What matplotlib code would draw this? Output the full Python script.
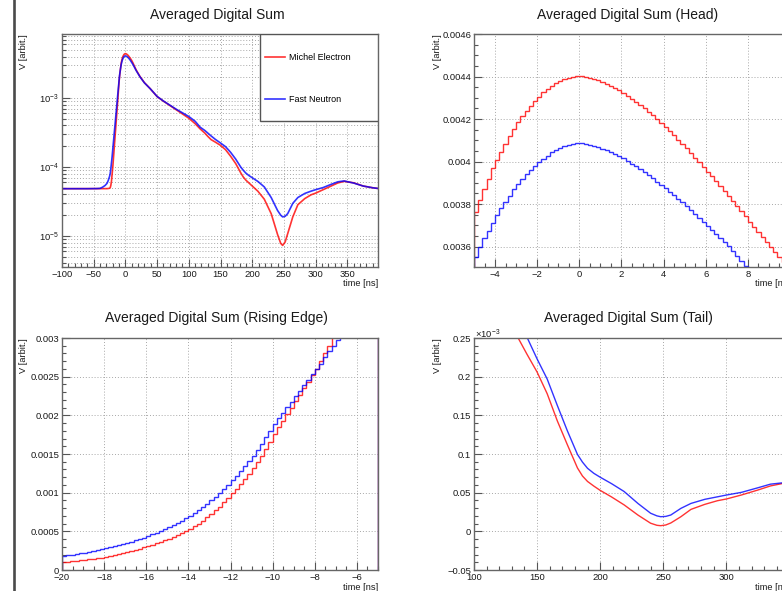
import numpy as np
import matplotlib
matplotlib.use("Agg")
import matplotlib.pyplot as plt
from matplotlib.ticker import MultipleLocator, LogLocator, FuncFormatter, NullFormatter
from matplotlib.lines import Line2D
from matplotlib.patches import Rectangle

# ---- data ----
labels = ["Michel Electron", "Fast Neutron"]

# rising edge, 0.2 ns bins from -20 to -5 ns, units of 1e-4
rise_red = [1.00, 1.05, 1.11, 1.17, 1.24, 1.30, 1.37, 1.45, 1.53, 1.61,
            1.70, 1.81, 1.92, 2.03, 2.16, 2.29, 2.43, 2.58, 2.74, 2.92,
            3.10, 3.27, 3.45, 3.64, 3.84, 4.05, 4.28, 4.51, 4.76, 5.02,
            5.30, 5.64, 6.01, 6.39, 6.81, 7.25, 7.71, 8.21, 8.74, 9.30,
            9.90, 10.49, 11.11, 11.76, 12.46, 13.20, 13.98, 14.80, 15.68, 16.61,
            17.60, 18.44, 19.28, 20.12, 20.96, 21.80, 22.64, 23.48, 24.32, 25.16,
            26.00, 27.0, 28.0, 29.0, 30.1, 31.0, 31.8, 32.6, 33.3, 34.0,
            34.7, 35.3, 35.9, 36.5, 37.1]
rise_blue = [1.80, 1.88, 1.97, 2.05, 2.15, 2.24, 2.34, 2.45, 2.56, 2.68,
             2.80, 2.93, 3.06, 3.21, 3.35, 3.51, 3.67, 3.84, 4.02, 4.20,
             4.40, 4.61, 4.83, 5.06, 5.30, 5.55, 5.81, 6.09, 6.38, 6.68,
             7.00, 7.36, 7.74, 8.15, 8.57, 9.01, 9.48, 9.97, 10.49, 11.03,
             11.60, 12.18, 12.79, 13.43, 14.10, 14.80, 15.54, 16.32, 17.14, 17.99,
             18.90, 19.61, 20.32, 21.03, 21.74, 22.45, 23.16, 23.87, 24.58, 25.29,
             26.00, 26.7, 27.5, 28.3, 29.0, 29.7, 30.4, 31.0, 31.6, 32.2,
             32.8, 33.4, 34.0, 34.6, 35.1]

# head, 0.2 ns bins from -5 to 10 ns, units of 1e-4
head_red = [37.65, 38.20, 38.72, 39.19, 39.69, 40.08, 40.47, 40.82, 41.18, 41.54,
            41.86, 42.12, 42.40, 42.62, 42.86, 43.06, 43.25, 43.41, 43.57, 43.69,
            43.80, 43.88, 43.94, 43.99, 44.02, 44.04, 44.00, 43.95, 43.88, 43.82,
            43.74, 43.66, 43.57, 43.46, 43.35, 43.23, 43.09, 42.95, 42.81, 42.67,
            42.53, 42.35, 42.17, 41.99, 41.81, 41.63, 41.43, 41.23, 41.03, 40.83,
            40.63, 40.41, 40.19, 39.97, 39.75, 39.53, 39.30, 39.07, 38.84, 38.61,
            38.38, 38.14, 37.90, 37.66, 37.42, 37.18, 36.94, 36.70, 36.46, 36.22,
            35.98, 35.74, 35.50, 35.26, 35.02]
head_blue = [35.50, 36.00, 36.40, 36.74, 37.13, 37.49, 37.81, 38.12, 38.40, 38.70,
             38.95, 39.19, 39.42, 39.61, 39.80, 39.97, 40.13, 40.28, 40.43, 40.55,
             40.66, 40.74, 40.79, 40.84, 40.85, 40.87, 40.84, 40.79, 40.74, 40.68,
             40.61, 40.55, 40.45, 40.36, 40.27, 40.16, 40.03, 39.90, 39.77, 39.64,
             39.51, 39.36, 39.21, 39.06, 38.91, 38.76, 38.59, 38.42, 38.25, 38.08,
             37.91, 37.73, 37.54, 37.36, 37.17, 36.99, 36.80, 36.60, 36.41, 36.22,
             36.03, 35.80, 35.57, 35.34, 35.11, 34.88, 34.65, 34.42, 34.19, 33.96,
             33.73, 33.50, 33.27, 33.04, 32.81]

# baseline before the rise, units of 1e-5
pre_t = [-100, -80, -60, -45, -40, -36, -32, -29, -27, -25, -24, -23, -22, -21]
pre_red = [4.85, 4.85, 4.85, 4.85, 4.85, 4.85, 4.85, 4.86, 4.88, 4.92, 5.0, 5.4, 6.2, 7.7]
pre_blue = [4.85, 4.85, 4.85, 4.87, 4.9, 5.1, 5.4, 5.8, 6.4, 7.3, 8.0, 9.4, 11.4, 14.0]

# decay and tail after the head, units of 1e-5
post_t = [12, 14, 17, 20, 23, 30, 39, 50, 60, 70, 80, 90, 100, 110, 118, 125, 130, 135,
          142, 150, 158, 166, 174, 182, 186, 190, 195, 200, 209, 219, 230, 240, 245, 248, 252, 256,
          264, 272, 283, 293, 300, 312, 325, 335, 345, 360, 375, 390, 399]
post_red = [322, 292, 255, 228, 205, 167, 137, 105, 90, 78, 67.5, 58.5, 51, 42.5, 35.6, 31.2, 27.8, 25.0,
            22.9, 20.6, 17.8, 14.3, 11.2, 8.2, 7.15, 6.45, 5.85, 5.3, 4.45, 3.42, 2.1, 1.05, 0.78, 0.73,
            0.82, 1.08, 1.89, 2.84, 3.49, 3.96, 4.18, 4.70, 5.34, 5.87, 6.2, 5.9, 5.3, 5.0, 4.88]
post_blue = [306, 282, 250, 225, 203, 166, 137, 105.5, 90.5, 79, 69, 61, 54, 46, 37.7, 34, 31, 28.3,
             25.1, 22.3, 19.7, 16.3, 13.0, 9.95, 8.95, 8.15, 7.5, 7.0, 6.17, 5.15, 3.6, 2.34, 2.0, 1.89,
             1.93, 2.11, 2.97, 3.61, 4.14, 4.47, 4.69, 5.04, 5.63, 6.1, 6.28, 5.85, 5.3, 5.0, 4.88]

RED = '#ff0000'
BLUE = '#0000ff'

plt.rcParams['font.family'] = ['Liberation Sans', 'DejaVu Sans']
plt.rcParams['mathtext.fontset'] = 'custom'
plt.rcParams['mathtext.rm'] = 'Liberation Sans'
plt.rcParams['mathtext.it'] = 'Liberation Sans:italic'
plt.rcParams['mathtext.bf'] = 'Liberation Sans:bold'

rise_edges = np.linspace(-20, -5, len(rise_red) + 1)
head_edges = np.linspace(-5, 10, len(head_red) + 1)
rise_c = rise_edges[:-1] + 0.1
head_c = head_edges[:-1] + 0.1

full_t = np.concatenate([pre_t, rise_c, head_c, post_t])
full_red = np.concatenate([np.array(pre_red) * 1e-5, np.array(rise_red) * 1e-4,
                           np.array(head_red) * 1e-4, np.array(post_red) * 1e-5])
full_blue = np.concatenate([np.array(pre_blue) * 1e-5, np.array(rise_blue) * 1e-4,
                            np.array(head_blue) * 1e-4, np.array(post_blue) * 1e-5])

W, H = 782, 591
fig = plt.figure(figsize=(W / 100, H / 100), dpi=100)
fig.patch.set_facecolor('white')


def box(l, t, r, b):
    return [l / W, 1 - b / H, (r - l) / W, (b - t) / H]


def gfmt(v, pos):
    return ('%g' % v).replace('-', '\u2212')


def style(ax, xmaj, xmin, ymaj=None, ymin=None):
    for s in ax.spines.values():
        s.set_color('#666666')
        s.set_linewidth(1.0)
    ax.tick_params(which='both', direction='in', top=False, right=False,
                   colors='#555555', labelcolor='#1a1a1a', labelsize=6.8)
    ax.tick_params(axis='x', pad=2)
    ax.tick_params(axis='y', pad=2)
    ax.tick_params(which='major', length=6, width=0.8)
    ax.tick_params(which='minor', length=3, width=0.8)
    ax.xaxis.set_major_locator(MultipleLocator(xmaj))
    ax.xaxis.set_minor_locator(MultipleLocator(xmin))
    ax.xaxis.set_major_formatter(FuncFormatter(gfmt))
    if ymaj is not None:
        ax.yaxis.set_major_locator(MultipleLocator(ymaj))
        ax.yaxis.set_minor_locator(MultipleLocator(ymin))
        ax.yaxis.set_major_formatter(FuncFormatter(gfmt))
    ax.grid(True, which='major', color='#a8a8a8', linestyle=(0, (1, 2)), linewidth=0.7)
    ax.set_axisbelow(True)


gl = dict(color='#a8a8a8', linestyle=(0, (1, 2)), linewidth=0.7)

# ---- top left: full waveform, log scale ----
ax = fig.add_axes(box(62, 34, 378, 267))
l1, = ax.plot(full_t, full_red, color=RED, lw=1.2, alpha=0.8)
l2, = ax.plot(full_t, full_blue, color=BLUE, lw=1.2, alpha=0.8)
ax.set_yscale('log')
ax.set_xlim(-100, 398.4)
ax.set_ylim(3.55e-6, 8.48e-3)
style(ax, 50, 10)
ax.yaxis.set_major_locator(LogLocator(base=10))
ax.yaxis.set_minor_locator(LogLocator(base=10, subs=np.arange(2, 10)))
ax.yaxis.set_minor_formatter(NullFormatter())
ax.grid(True, which='minor', axis='y', **gl)
ax.add_patch(Rectangle((0.6256, 0.6266), 0.3744, 0.3734, transform=ax.transAxes,
                       facecolor='white', edgecolor='#555555', lw=1.0, zorder=4))
leg = ax.legend([l1, l2], labels, loc='center left', bbox_to_anchor=(0.642, 0.809),
                frameon=False, fontsize=6.5, handlelength=2.2, handletextpad=0.45,
                labelspacing=3.6, borderpad=0, borderaxespad=0)
leg.set_zorder(5)

# ---- top right: head ----
ax = fig.add_axes(box(474, 34, 790, 267))
ax.stairs(np.array(head_red) * 1e-4, head_edges, color=RED, lw=1.0, alpha=0.8)
ax.stairs(np.array(head_blue) * 1e-4, head_edges, color=BLUE, lw=1.0, alpha=0.8)
ax.set_xlim(-5, 10)
ax.set_ylim(0.003504, 0.0046)
style(ax, 2, 0.5, 0.0002, 0.00005)

# ---- bottom left: rising edge ----
ax = fig.add_axes(box(62, 338, 378, 570))
ax.stairs(np.array(rise_red) * 1e-4, rise_edges, color=RED, lw=1.0, alpha=0.8)
ax.stairs(np.array(rise_blue) * 1e-4, rise_edges, color=BLUE, lw=1.0, alpha=0.8)
ax.set_xlim(-20, -5)
ax.set_ylim(0, 0.003)
style(ax, 2, 0.5, 0.0005, 0.0001)

# ---- bottom right: tail (units of 1e-3) ----
ax = fig.add_axes(box(474, 338, 790, 570))
ax.plot(full_t, full_red * 1e3, color=RED, lw=1.0, alpha=0.8)
ax.plot(full_t, full_blue * 1e3, color=BLUE, lw=1.0, alpha=0.8)
ax.set_xlim(100, 350.5)
ax.set_ylim(-0.05, 0.25)
style(ax, 50, 10, 0.05, 0.01)
fig.text(475 / W, 1 - 334 / H, r'$\times10^{-3}$', ha='left', va='center', fontsize=6.8, color='#1a1a1a')

# ---- titles and axis titles ----
titles = [(217, 15, "Averaged Digital Sum"), (628, 15, "Averaged Digital Sum (Head)"),
          (216, 318, "Averaged Digital Sum (Rising Edge)"), (628, 318, "Averaged Digital Sum (Tail)")]
for x, y, s in titles:
    fig.text(x / W, 1 - y / H, s, ha='center', va='center', fontsize=10, color='#1a1a1a')

for x, y in [(24, 34), (438, 34), (24, 338), (438, 338)]:
    fig.text(x / W, 1 - y / H, 'V [arbit.]', rotation=90, ha='center', va='top',
             fontsize=6.7, color='#1a1a1a')
for x, y in [(378, 283), (790, 283), (378, 587), (790, 587)]:
    fig.text(x / W, 1 - y / H, 'time [ns]', ha='right', va='center', fontsize=6.7, color='#1a1a1a')

# dark frame line on the left of the canvas
fig.add_artist(Line2D([14 / W, 14 / W], [0, 1], color='#4a4a4a', lw=1.9))

fig.savefig('out.png', dpi=100)
